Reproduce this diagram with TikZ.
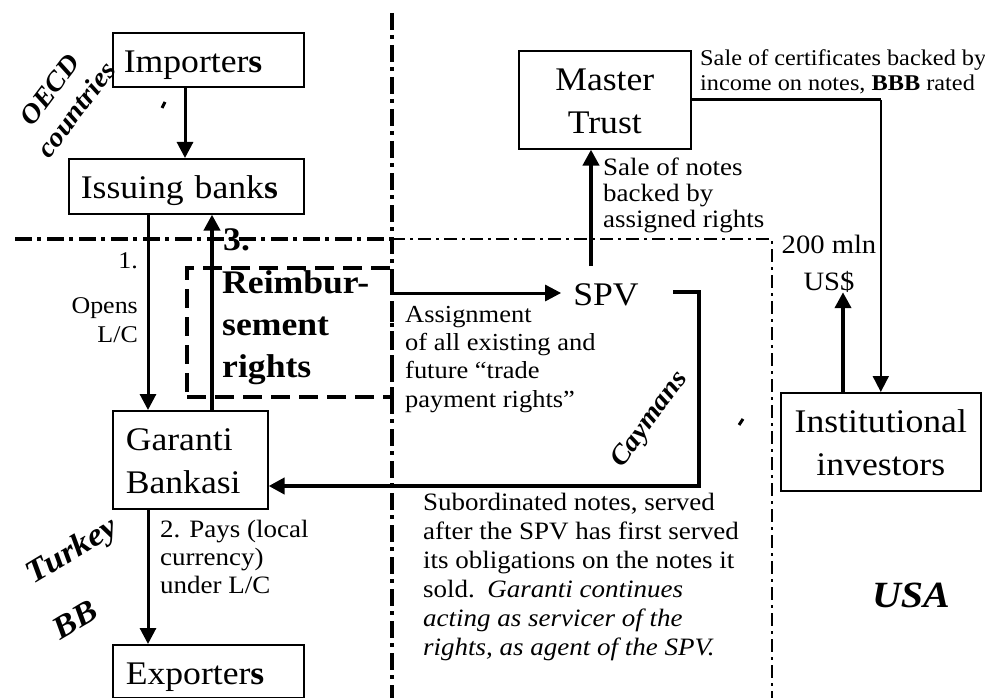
\documentclass[tikz,border=0pt]{standalone}
\usepackage{fontspec}
\setmainfont{Liberation Serif}[FakeStretch=1.08]
\usetikzlibrary{arrows.meta}

\begin{document}
\begin{tikzpicture}[
      x=1pt, y=-1pt,
      party/.style={
        draw,
        line width=1.6pt,
        anchor=north west,
        inner ysep=0pt,
        text height=40pt,
        font=\fontsize{33}{42.5}\selectfont
      },
      note/.style={
        anchor=base west,
        inner sep=0pt,
        align=left,
        font=\fontsize{25}{28.5}\selectfont
      },
      region/.style={
        inner sep=0pt,
        align=center,
        font=\fontsize{27}{33}\selectfont\bfseries\itshape
      },
      flow/.style={
        line width=3pt,
        -{Triangle[width=16pt,length=16pt]}
      },
      border/.style={
        line width=4pt,
        dash pattern=on 17pt off 5pt on 4pt off 6pt
      },
      thinborder/.style={
        line width=2.6pt,
        dash pattern=on 13pt off 5pt on 3pt off 5pt
      }
    ]
      \useasboundingbox (0,0) rectangle (985,698);

      \draw[border] (15,239) -- (392,239);
      \draw[thinborder] (392,239) -- (772,239) -- (772,698);
      \draw[border] (392,13) -- (392,698);

      \node (imp) at (112,32) [party,align=left,text width=169pt,inner xsep=11pt,text depth=14pt]{Importer\textbf{s}};
      \node (iss) at (68,158) [party,align=left,text width=211pt,inner xsep=12pt,text depth=15pt]{Issuing bank\textbf{s}};
      \node (gar) at (112,410) [party,align=left,text width=129pt,inner xsep=13pt,text depth=58pt]{Garanti\\Bankasi};
      \node (exp) at (112,644) [party,align=left,text width=165pt,inner xsep=13pt,text depth=13pt]{Exporter\textbf{s}};
      \node (mst) at (518,50) [party,align=center,text width=150pt,inner xsep=11pt,text depth=58pt]{Master\\Trust};
      \node (inst) at (780,392) [party,align=center,text width=180pt,inner xsep=10pt,text depth=58pt]{Institutional\\investors};

      \node (spv) at (606,295) [inner xsep=12pt,inner ysep=0pt,font=\fontsize{33}{40}\selectfont]{SPV};
      \node (usd) at (829,290) [anchor=base,align=center,inner sep=0pt,font=\fontsize{26.5}{37}\selectfont]{200 mln\\US\$};

      \node (rbox) at (185,266) [draw,anchor=north west,line width=4pt,dash pattern=on 19pt off 9pt,minimum width=205pt,minimum height=129pt]{};
      \node (three) at (223,250) [note,font=\fontsize{33}{42}\selectfont\bfseries]{3.};
      \node (reimb) at (222,377) [note,font=\fontsize{33}{42}\selectfont\bfseries]{Reimbur-\\sement\\rights};

      \node (opens) at (138,342) [note,anchor=base east,align=right,font=\fontsize{24}{29}\selectfont]{1.\\[16pt]Opens\\L/C};
      \node (pays) at (160,593) [note,font=\fontsize{25}{28}\selectfont]{2. Pays (local\\currency)\\under L/C};
      \node (certs) at (700,91) [note,font=\fontsize{22.5}{25}\selectfont]{Sale of certificates backed by\\income on notes, \textbf{BBB} rated};
      \node (notes) at (603,227) [note,font=\fontsize{25}{26}\selectfont]{Sale of notes\\backed by\\assigned rights};
      \node (asgtxt) at (405,407) [note,font=\fontsize{24.5}{28.3}\selectfont]{Assignment\\of all existing and\\future “trade\\payment rights”};
      \node (sub) at (423,655) [note,font=\fontsize{25}{29}\selectfont]{Subordinated notes, served\\after the SPV has first served\\its obligations on the notes it\\sold.\enspace\textit{Garanti continues}\\\textit{acting as servicer of the}\\\textit{rights, as agent of the SPV.}};

      \node (oecd) at (63,100) [region,rotate=53]{OECD\\countries};
      \node (cay) at (650,420) [region,rotate=54]{Caymans};
      \node (tur) at (73,552) [region,rotate=31,font=\fontsize{32}{36}\selectfont\bfseries\itshape]{Turkey};
      \node (bb) at (75,620) [region,rotate=31,font=\fontsize{32}{36}\selectfont\bfseries\itshape]{BB};
      \node (usa) at (911,607) [region,anchor=base,font=\fontsize{37}{40}\selectfont\bfseries\itshape]{USA};

      \coordinate (laneA) at (148,0);
      \coordinate (laneB) at (212,0);
      \coordinate (laneC) at (185,0);
      \coordinate (laneD) at (843,0);
      \coordinate (spvup) at (591,266);
      \coordinate (asg) at (393,293);
      \coordinate (loopS) at (673,292);
      \coordinate (loopR) at (699,292);
      \coordinate (loopB) at (699,486);

      \draw[flow] (laneC |- imp.south) -- (laneC |- iss.north);
      \draw[flow] (laneA |- iss.south) -- (laneA |- gar.north);
      \draw[flow,line width=4pt] (laneB |- gar.north) -- (laneB |- iss.south);
      \draw[flow] (laneA |- gar.south) -- (laneA |- exp.north);

      \draw[flow,line width=4pt] (spvup) -- (spvup |- mst.south);
      \draw[flow] (asg) -- (asg -| spv.west);
      \draw[flow,line width=4pt] (loopS) -- (loopR) -- (loopB) -- (loopB -| gar.east);

      \draw[line width=3pt] (mst.east) -- (mst.east -| inst.north);
      \draw[flow,line width=1.8pt] (mst.east -| inst.north) -- (inst.north);
      \draw[flow,line width=4pt] (laneD |- inst.north) -- (laneD |- usd.south);

      \draw[line width=3pt] (165,102) -- (162,108);
      \draw[line width=3pt] (743,419) -- (739,425);

    \end{tikzpicture}
\end{document}
